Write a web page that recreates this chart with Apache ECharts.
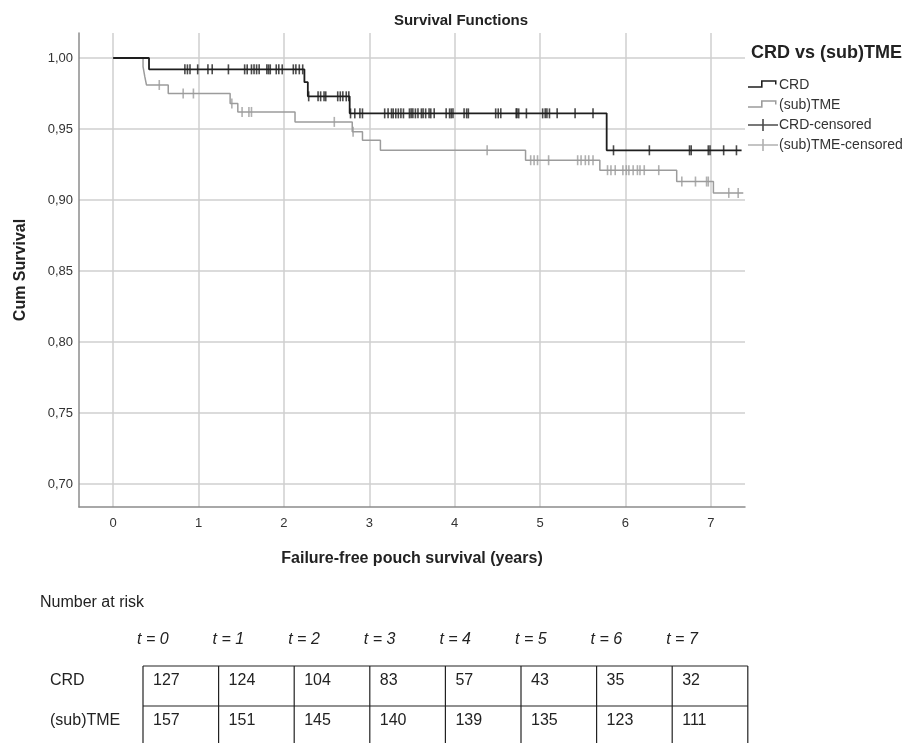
<!DOCTYPE html>
<html>
<head>
<meta charset="utf-8">
<script src="https://cdn.jsdelivr.net/npm/echarts@6/dist/echarts.min.js"></script>
<style>
  html, body { margin: 0; padding: 0; background: #fff; }
  #main { width: 922px; height: 743px; }
</style>
</head>
<body>
<div id="main"></div>
<script>
// Kaplan-Meier steps
var crdTimes = [0, 0.42, 2.24, 2.28, 2.77, 5.78, 7.36];
var crdSurv = [1.000, 0.992, 0.983, 0.973, 0.961, 0.935, 0.935];
var tmeTimes = [0, 0.35, 0.37, 0.39, 0.645, 1.37, 1.46, 2.13, 2.80, 2.92, 3.13, 4.83, 5.70, 6.60, 7.03, 7.38];
var tmeSurv = [1.000, 0.994, 0.987, 0.981, 0.975, 0.968, 0.962, 0.955, 0.948, 0.942, 0.935, 0.928, 0.921, 0.913, 0.905, 0.905];

// censored cases (years)
var crdCensored = [0.84, 0.87, 0.90, 0.99, 1.11, 1.16, 1.35, 1.54, 1.57, 1.62, 1.65, 1.68, 1.71,
  1.80, 1.82, 1.84, 1.91, 1.94, 1.98, 2.11, 2.14, 2.18, 2.22,
  2.29, 2.40, 2.43, 2.47, 2.49, 2.63, 2.66, 2.69, 2.73, 2.76,
  2.78, 2.83, 2.89, 2.92, 3.18, 3.22, 3.26, 3.28, 3.31, 3.34, 3.37, 3.40, 3.47, 3.49, 3.51,
  3.54, 3.57, 3.61, 3.63, 3.66, 3.70, 3.72, 3.76, 3.90, 3.94, 3.96, 3.98, 4.11, 4.14, 4.16,
  4.48, 4.51, 4.54, 4.72, 4.73, 4.75, 4.84, 5.03, 5.06, 5.08, 5.11, 5.20, 5.41, 5.62,
  5.86, 6.28, 6.75, 6.77, 6.97, 6.99, 7.15, 7.30];
var tmeCensored = [0.54, 0.82, 0.94, 1.39, 1.51, 1.59, 1.62, 2.59, 2.81, 4.38,
  4.89, 4.93, 4.97, 5.10, 5.44, 5.48, 5.53, 5.57, 5.62,
  5.79, 5.83, 5.88, 5.97, 6.01, 6.04, 6.09, 6.14, 6.17, 6.22, 6.39,
  6.66, 6.82, 6.95, 6.97, 7.21, 7.32];

var xTicks = [0, 1, 2, 3, 4, 5, 6, 7];
var yTicks = [0.70, 0.75, 0.80, 0.85, 0.90, 0.95, 1.00];

// number at risk table
var riskTimes = ['0', '1', '2', '3', '4', '5', '6', '7'];
var riskGroups = ['CRD', '(sub)TME'];
var crdAtRisk = [127, 124, 104, 83, 57, 43, 35, 32];
var tmeAtRisk = [157, 151, 145, 140, 139, 135, 123, 111];

var FONT = '"Liberation Sans", Arial, sans-serif';
var NARROW = '"Liberation Sans Narrow", "Liberation Sans", Arial, sans-serif';

function pairs(ts, ss) {
  return ts.map(function (t, i) { return [t, ss[i]]; });
}
// survival value of the step curve at time t
function survAt(ts, ss, t) {
  var v = ss[0];
  for (var i = 0; i < ts.length; i++) {
    if (ts[i] <= t) v = ss[i];
  }
  return v;
}
function censorPoints(cs, ts, ss) {
  return cs.map(function (t) { return [t, survAt(ts, ss, t)]; });
}

// legend icons (box 30x14, first moves fix the bounding box)
var stepIcon = 'path://M0,0 M30,14 M0,8.2 L13,8.2 L13,2.2 L28.5,2.2 L28.5,6.5 L27,6.5 L27,3.8 L14.6,3.8 L14.6,9.8 L0,9.8 Z';
var plusIcon = 'path://M0,0 M30,14 M0,6.2 L14.2,6.2 L14.2,1 L15.8,1 L15.8,6.2 L30,6.2 L30,7.8 L15.8,7.8 L15.8,13 L14.2,13 L14.2,7.8 L0,7.8 Z';

// table drawn with graphic elements
var tblLeft = 143, colW = 75.6, tblTop = 666, rowH = 40;
var graphics = [];
graphics.push({ type: 'text', x: 40, y: 603,
  style: { text: 'Number at risk', font: '16px ' + NARROW, fill: '#222', verticalAlign: 'middle' } });
riskTimes.forEach(function (t, i) {
  graphics.push({ type: 'text', x: tblLeft + i * colW - 6, y: 640,
    style: { text: 't = ' + t, font: 'italic 16px ' + NARROW, fill: '#222', verticalAlign: 'middle' } });
});
[crdAtRisk, tmeAtRisk].forEach(function (row, r) {
  graphics.push({ type: 'text', x: 50, y: tblTop + 15 + r * rowH,
    style: { text: riskGroups[r], font: '16px ' + NARROW, fill: '#222', verticalAlign: 'middle' } });
  row.forEach(function (n, i) {
    graphics.push({ type: 'text', x: tblLeft + i * colW + 10, y: tblTop + 15 + r * rowH,
      style: { text: String(n), font: '16px ' + NARROW, fill: '#222', verticalAlign: 'middle' } });
  });
});
var tblRight = tblLeft + riskTimes.length * colW;
[tblTop, tblTop + rowH].forEach(function (y) {
  graphics.push({ type: 'line', shape: { x1: tblLeft, y1: y, x2: tblRight, y2: y },
    style: { stroke: '#222', lineWidth: 1.2 } });
});
for (var c = 0; c <= riskTimes.length; c++) {
  graphics.push({ type: 'line', shape: { x1: tblLeft + c * colW, y1: tblTop, x2: tblLeft + c * colW, y2: 750 },
    style: { stroke: '#222', lineWidth: 1.2 } });
}

var chart = echarts.init(document.getElementById('main'));
chart.setOption({
  animation: false,
  backgroundColor: '#fff',
  title: [
    { text: 'Survival Functions', left: 'center', top: 8,
      textStyle: { fontFamily: FONT, fontSize: 15, fontWeight: 'bold', color: '#222' } },
    { text: 'CRD vs (sub)TME', left: 746, top: 39,
      textStyle: { fontFamily: FONT, fontSize: 18, fontWeight: 'bold', color: '#222' } }
  ],
  legend: {
    orient: 'vertical',
    left: 743,
    top: 73,
    itemWidth: 30,
    itemHeight: 14,
    itemGap: 6,
    itemStyle: { borderWidth: 0 },
    textStyle: { fontFamily: FONT, fontSize: 14, color: '#333', padding: [0, 0, 0, -4] },
    data: [
      { name: 'CRD', icon: stepIcon },
      { name: '(sub)TME', icon: stepIcon },
      { name: 'CRD-censored', icon: plusIcon },
      { name: '(sub)TME-censored', icon: plusIcon }
    ]
  },
  grid: { left: 79, right: 177, top: 33, bottom: 236 },
  xAxis: {
    type: 'value',
    min: -0.4,
    max: 7.4,
    name: 'Failure-free pouch survival (years)',
    nameLocation: 'middle',
    nameGap: 44,
    nameTextStyle: { fontFamily: FONT, fontSize: 16, fontWeight: 'bold', color: '#222' },
    axisLine: { onZero: false, lineStyle: { color: '#8c8c8c', width: 1.5 } },
    axisTick: { show: false, customValues: xTicks },
    axisLabel: { customValues: xTicks, fontFamily: FONT, fontSize: 13, color: '#333', margin: 10 },
    splitLine: { show: true, lineStyle: { color: '#cfcfcf', width: 1.5 } }
  },
  yAxis: {
    type: 'value',
    min: 0.6838,
    max: 1.0176,
    name: 'Cum Survival',
    nameLocation: 'middle',
    nameGap: 50,
    nameTextStyle: { fontFamily: FONT, fontSize: 16, fontWeight: 'bold', color: '#222' },
    axisLine: { show: true, onZero: false, lineStyle: { color: '#8c8c8c', width: 1.5 } },
    axisTick: { show: false, customValues: yTicks },
    axisLabel: {
      customValues: yTicks, fontFamily: FONT, fontSize: 13, color: '#333', margin: 6,
      formatter: function (v) { return v.toFixed(2).replace('.', ','); }
    },
    splitLine: { show: true, lineStyle: { color: '#cfcfcf', width: 1.5 } }
  },
  series: [
    { name: 'CRD', type: 'line', step: 'end', symbol: 'none', silent: true,
      color: '#1e1e1e', lineStyle: { color: '#1e1e1e', width: 1.8 },
      data: pairs(crdTimes, crdSurv), z: 4 },
    { name: '(sub)TME', type: 'line', step: 'end', symbol: 'none', silent: true,
      color: '#9c9c9c', lineStyle: { color: '#9c9c9c', width: 1.5 },
      data: pairs(tmeTimes, tmeSurv), z: 3 },
    { name: 'CRD-censored', type: 'scatter', symbol: 'rect', symbolSize: [1.6, 10], silent: true,
      itemStyle: { color: '#1e1e1e' }, data: censorPoints(crdCensored, crdTimes, crdSurv), z: 5 },
    { name: '(sub)TME-censored', type: 'scatter', symbol: 'rect', symbolSize: [1.6, 10], silent: true,
      itemStyle: { color: '#9c9c9c' }, data: censorPoints(tmeCensored, tmeTimes, tmeSurv), z: 5 }
  ],
  graphic: graphics
});
</script>
</body>
</html>
